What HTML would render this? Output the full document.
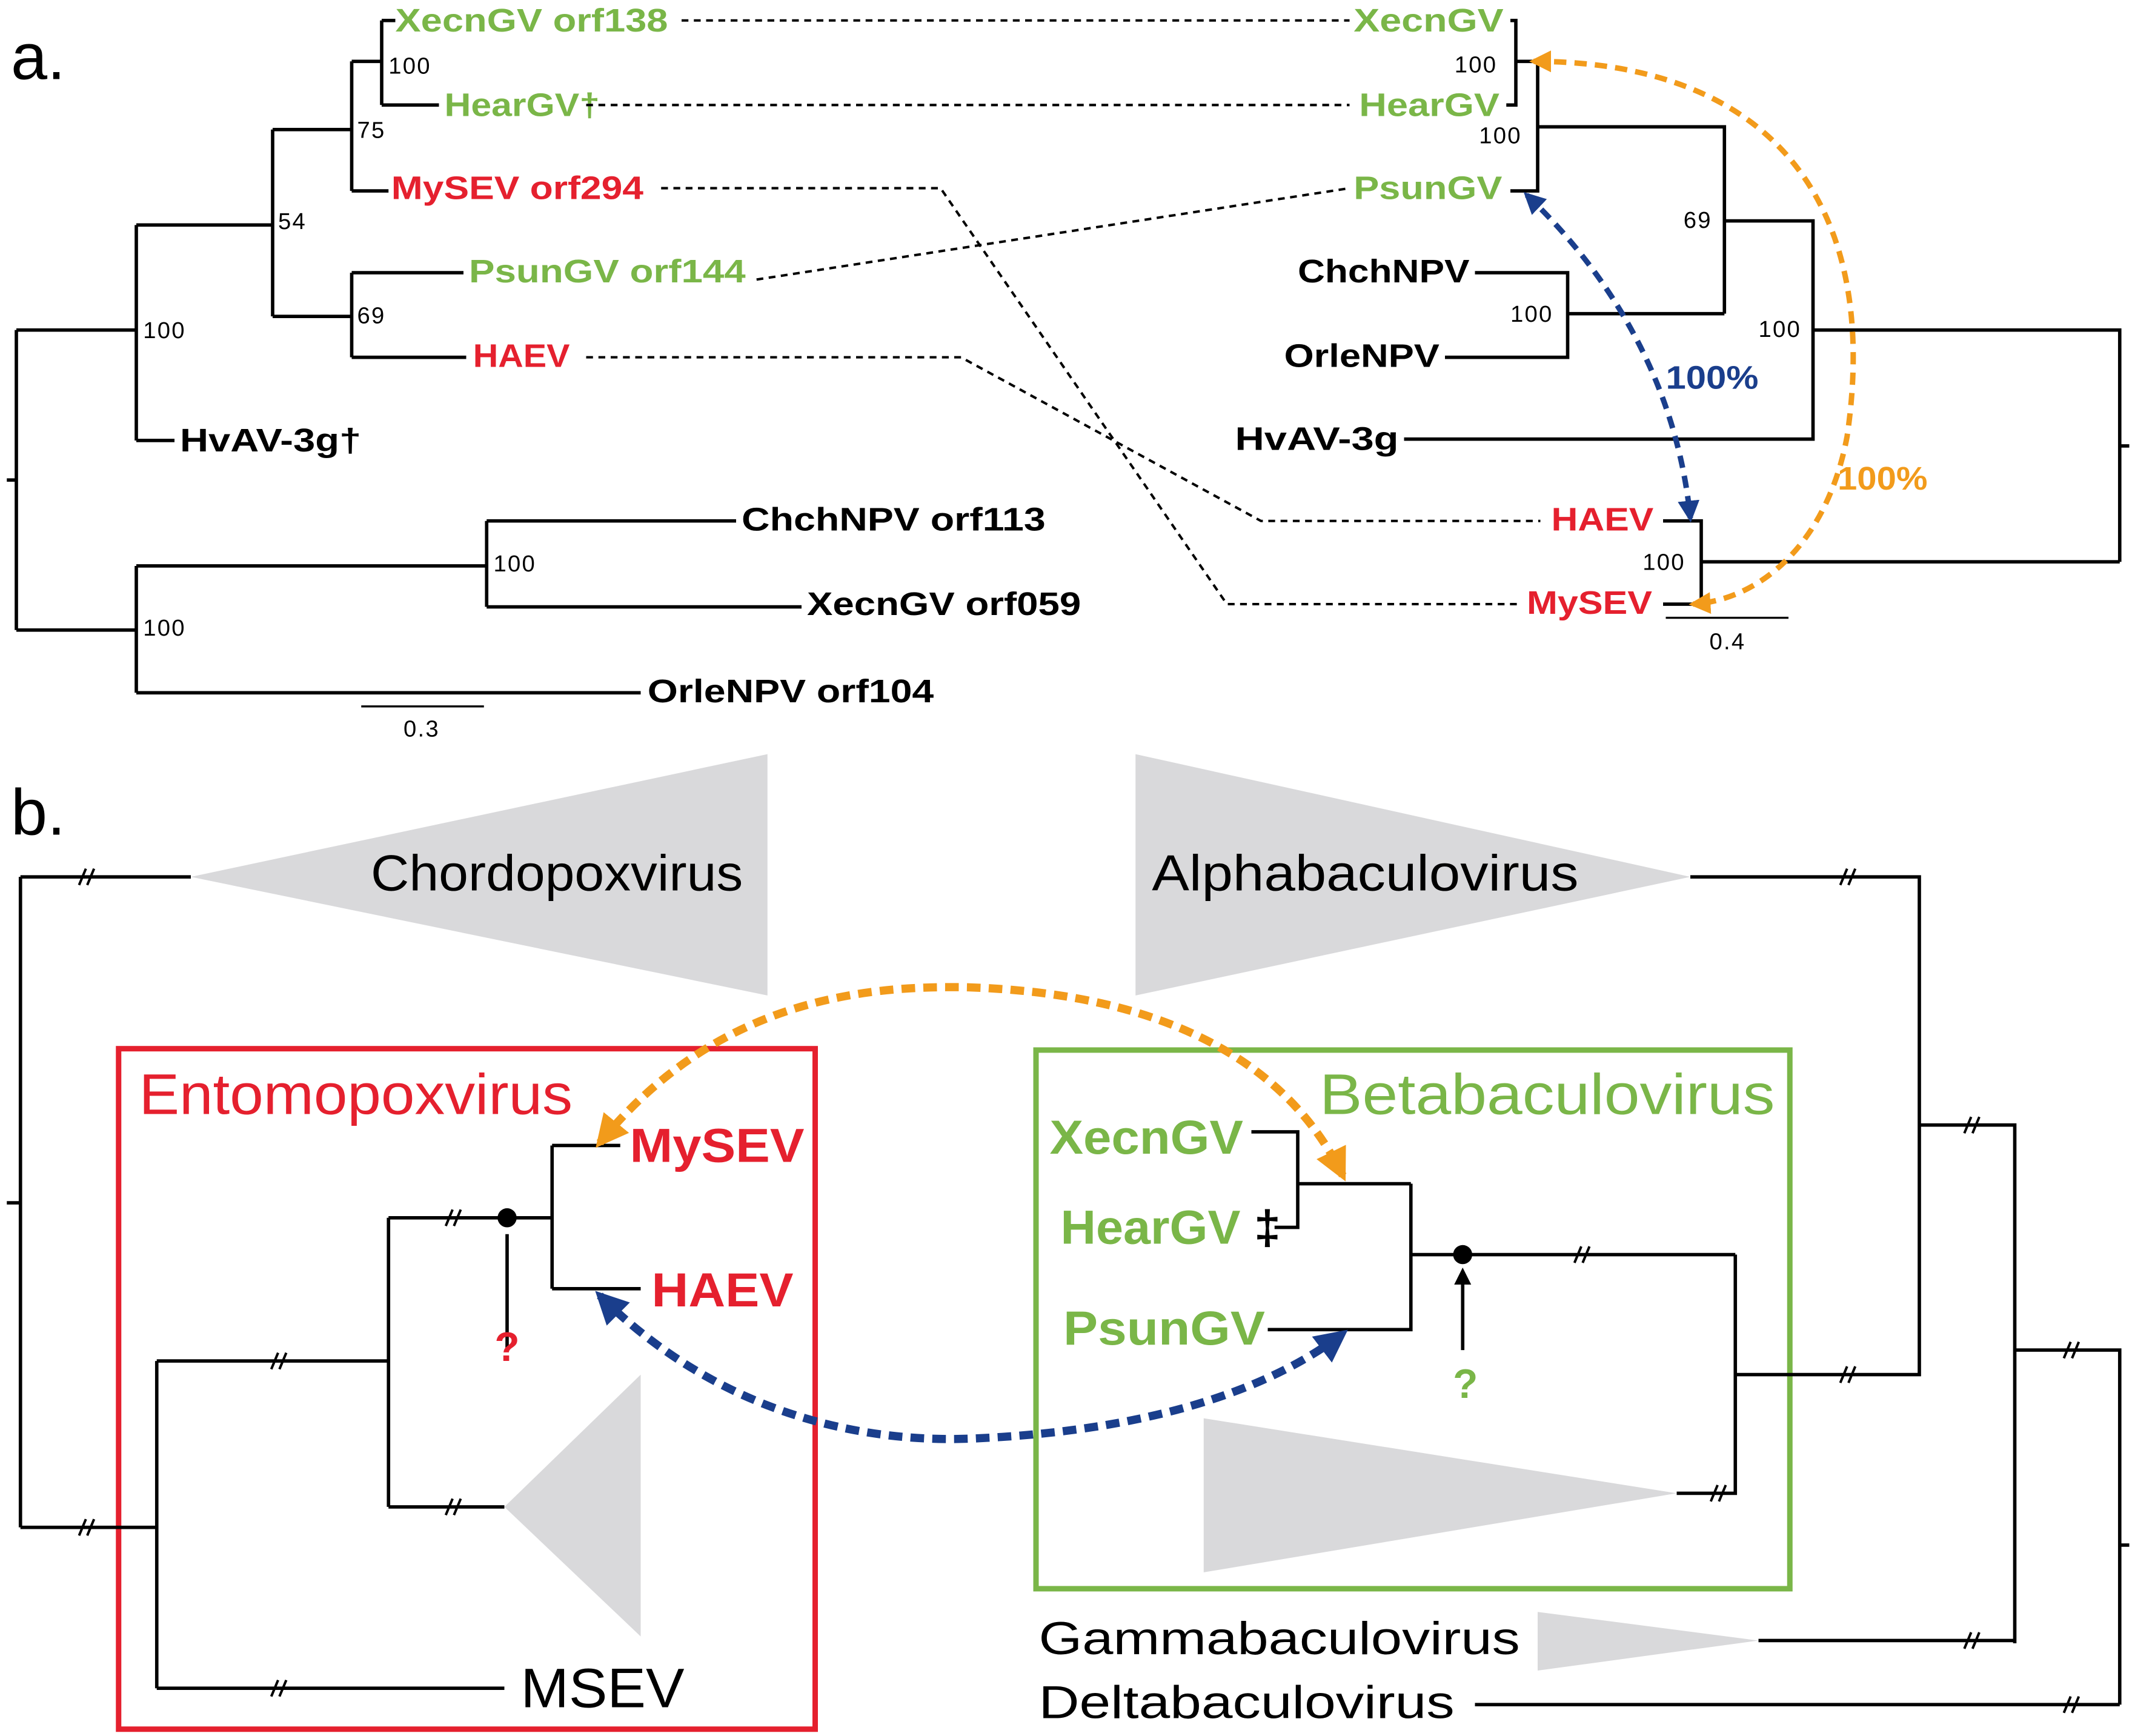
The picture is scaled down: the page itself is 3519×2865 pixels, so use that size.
<!DOCTYPE html>
<html><head><meta charset="utf-8"><style>html,body{margin:0;padding:0;background:#fff}svg{display:block}</style></head>
<body>
<svg xmlns="http://www.w3.org/2000/svg" width="3519" height="2865" viewBox="0 0 1564 1273" preserveAspectRatio="none" font-family="Liberation Sans, Arial, sans-serif">
<defs>
<marker id="ao" viewBox="0 0 10 10" refX="8" refY="5" markerWidth="4" markerHeight="4" orient="auto-start-reverse" markerUnits="strokeWidth"><path d="M0 0L10 5L0 10z" fill="#f29b1b"/></marker>
<marker id="ab" viewBox="0 0 10 10" refX="8" refY="5" markerWidth="4" markerHeight="4" orient="auto-start-reverse" markerUnits="strokeWidth"><path d="M0 0L10 5L0 10z" fill="#1a3e8c"/></marker>
<marker id="ak" viewBox="0 0 10 10" refX="8" refY="5" markerWidth="5" markerHeight="7" orient="auto" markerUnits="strokeWidth"><path d="M0 0L10 5L0 10z" fill="#000"/></marker>
</defs>
<rect width="1564" height="1273" fill="#fff"/>
<text x="8" y="58" font-size="48">a.</text>
<text x="8" y="612" font-size="48">b.</text>

<g stroke="#000" stroke-width="2.5" fill="none">
<path d="M5 352H12M12 242V462M12 242H100M100 165V323M100 323H128M100 165H200M200 95V232M200 95H258M258 45V140M258 45H280M280 15V77M280 15H290M280 77H322M258 140H285M200 232H258M258 200V262M258 200H340M258 262H342"/>
<path d="M12 462H100M100 415V508M100 415H357M357 382V445M357 382H540M357 445H588M100 508H470"/>
<path d="M265 518H355" stroke-width="1.5"/>
<path d="M1108 15H1112V77H1105M1112 45H1128M1128 45V140H1108M1128 93H1265V230M1082 200H1150V262H1060M1150 230H1265M1265 162H1330V322H1030M1330 242H1555V412M1555 327H1562M1220 382H1248V443H1220M1248 412H1555"/>
<path d="M1222 453H1312" stroke-width="1.5"/>
</g>
<g font-size="17" fill="#000" letter-spacing="1">
<text x="285" y="54">100</text><text x="262" y="101">75</text><text x="204" y="168">54</text><text x="262" y="237">69</text><text x="105" y="248">100</text>
<text x="362" y="419">100</text><text x="105" y="466">100</text><text x="296" y="540">0.3</text>
<text x="1067" y="53">100</text><text x="1085" y="105">100</text><text x="1235" y="167">69</text><text x="1108" y="236">100</text><text x="1290" y="247">100</text><text x="1205" y="418">100</text><text x="1254" y="476">0.4</text>
</g>
<g font-size="24" font-weight="bold" lengthAdjust="spacingAndGlyphs">
<text x="290" y="23" fill="#7ab648" textLength="200" lengthAdjust="spacingAndGlyphs">XecnGV orf138</text>
<text x="326" y="85" fill="#7ab648" textLength="114" lengthAdjust="spacingAndGlyphs">HearGV†</text>
<text x="287" y="146" fill="#e5202e" textLength="185" lengthAdjust="spacingAndGlyphs">MySEV orf294</text>
<text x="344" y="207" fill="#7ab648" textLength="203" lengthAdjust="spacingAndGlyphs">PsunGV orf144</text>
<text x="347" y="269" fill="#e5202e" textLength="71" lengthAdjust="spacingAndGlyphs">HAEV</text>
<text x="132" y="331" textLength="133" lengthAdjust="spacingAndGlyphs">HvAV-3g†</text>
<text x="544" y="389" textLength="223" lengthAdjust="spacingAndGlyphs">ChchNPV orf113</text>
<text x="592" y="451" textLength="201" lengthAdjust="spacingAndGlyphs">XecnGV orf059</text>
<text x="475" y="515" textLength="210" lengthAdjust="spacingAndGlyphs">OrleNPV orf104</text>
<text x="993" y="23" fill="#7ab648" textLength="110" lengthAdjust="spacingAndGlyphs">XecnGV</text>
<text x="997" y="85" fill="#7ab648" textLength="103" lengthAdjust="spacingAndGlyphs">HearGV</text>
<text x="993" y="146" fill="#7ab648" textLength="109" lengthAdjust="spacingAndGlyphs">PsunGV</text>
<text x="952" y="207" textLength="126" lengthAdjust="spacingAndGlyphs">ChchNPV</text>
<text x="942" y="269" textLength="114" lengthAdjust="spacingAndGlyphs">OrleNPV</text>
<text x="906" y="330" textLength="120" lengthAdjust="spacingAndGlyphs">HvAV-3g</text>
<text x="1138" y="389" fill="#e5202e" textLength="75" lengthAdjust="spacingAndGlyphs">HAEV</text>
<text x="1120" y="450" fill="#e5202e" textLength="92" lengthAdjust="spacingAndGlyphs">MySEV</text>
<text x="1222" y="285" fill="#1a3e8c" textLength="68" lengthAdjust="spacingAndGlyphs">100%</text>
<text x="1348" y="359" fill="#f29b1b" textLength="66" lengthAdjust="spacingAndGlyphs">100%</text>
</g>
<g stroke="#000" stroke-width="1.8" stroke-dasharray="5,4" fill="none">
<path d="M500 15H990M430 77H990M485 138H690L900 443H1115M555 205L990 138M430 262H705L925 382H1130"/>
</g>
<path d="M1125 45C1300 45 1380 150 1355 320C1340 400 1290 440 1242 443" stroke="#f29b1b" stroke-width="4" stroke-dasharray="9,6" fill="none" marker-start="url(#ao)" marker-end="url(#ao)"/>
<path d="M1120 143C1180 200 1230 280 1240 380" stroke="#1a3e8c" stroke-width="4" stroke-dasharray="9,6" fill="none" marker-start="url(#ab)" marker-end="url(#ab)"/>

<g fill="#d9d9db">
<polygon points="140,643 563,553 563,730"/>
<polygon points="833,553 833,730 1240,643"/>
<polygon points="370,1105 470,1008 470,1200"/>
<polygon points="883,1040 883,1153 1230,1095"/>
<polygon points="1128,1182 1128,1225 1290,1203"/>
</g>
<text x="272" y="653" font-size="37" textLength="273" lengthAdjust="spacingAndGlyphs">Chordopoxvirus</text>
<text x="845" y="653" font-size="37" textLength="313" lengthAdjust="spacingAndGlyphs">Alphabaculovirus</text>
<rect x="87" y="769" width="511" height="499" fill="none" stroke="#e5202e" stroke-width="4"/>
<rect x="760" y="770" width="553" height="395" fill="none" stroke="#7ab648" stroke-width="4"/>
<text x="102" y="817" font-size="42" fill="#e5202e" textLength="318" lengthAdjust="spacingAndGlyphs">Entomopoxvirus</text>
<text x="968" y="817" font-size="42" fill="#7ab648" textLength="334" lengthAdjust="spacingAndGlyphs">Betabaculovirus</text>
<g stroke="#000" stroke-width="2.5" fill="none">
<path d="M15 643H140M15 643V1120M5 882H15M15 1120H115M115 998V1238M115 998H285M115 1238H370M285 893V1105M285 893H405M285 1105H370M405 840V945M405 840H455M405 945H470"/>
<path d="M1240 643H1408V1008H1273M1273 920V1095H1230M1075 920H1273M1035 868V975H930M1035 920H1075M918 830H952V900H935M952 868H1035"/>
<path d="M1408 825H1478V1205M1478 990H1555V1250M1555 1133H1562M1290 1203H1478M1082 1250H1555"/>
<path d="M372 990V905M1073 990V932" marker-end="url(#ak)"/>
<g stroke-width="1.8">
<path d="M58 649l5-12M64 649l5-12"/>
<path d="M58 1126l5-12M64 1126l5-12"/>
<path d="M199 1004l5-12M205 1004l5-12"/>
<path d="M199 1244l5-12M205 1244l5-12"/>
<path d="M327 899l5-12M333 899l5-12"/>
<path d="M327 1111l5-12M333 1111l5-12"/>
<path d="M1155 926l5-12M1161 926l5-12"/>
<path d="M1255 1101l5-12M1261 1101l5-12"/>
<path d="M1350 1014l5-12M1356 1014l5-12"/>
<path d="M1350 649l5-12M1356 649l5-12"/>
<path d="M1441 831l5-12M1447 831l5-12"/>
<path d="M1514 996l5-12M1520 996l5-12"/>
<path d="M1441 1209l5-12M1447 1209l5-12"/>
<path d="M1514 1256l5-12M1520 1256l5-12"/>
</g>
</g>
<circle cx="372" cy="893" r="7"/>
<circle cx="1073" cy="920" r="7"/>
<text x="372" y="998" font-size="30" font-weight="bold" fill="#e5202e" text-anchor="middle">?</text>
<text x="1075" y="1025" font-size="30" font-weight="bold" fill="#7ab648" text-anchor="middle">?</text>
<g font-size="35" font-weight="bold">
<text x="462" y="852" fill="#e5202e" textLength="128" lengthAdjust="spacingAndGlyphs">MySEV</text>
<text x="478" y="958" fill="#e5202e" textLength="104" lengthAdjust="spacingAndGlyphs">HAEV</text>
<text x="770" y="846" fill="#7ab648" textLength="142" lengthAdjust="spacingAndGlyphs">XecnGV</text>
<text x="778" y="912" fill="#7ab648" textLength="132" lengthAdjust="spacingAndGlyphs">HearGV</text>
<text x="920" y="912">‡</text>
<text x="780" y="986" fill="#7ab648" textLength="148" lengthAdjust="spacingAndGlyphs">PsunGV</text>
</g>
<text x="382" y="1252" font-size="41" textLength="120" lengthAdjust="spacingAndGlyphs">MSEV</text>
<text x="762" y="1213" font-size="34" textLength="353" lengthAdjust="spacingAndGlyphs">Gammabaculovirus</text>
<text x="762" y="1260" font-size="34" textLength="305" lengthAdjust="spacingAndGlyphs">Deltabaculovirus</text>
<path d="M440 838C520 740 620 722 710 724C840 728 940 770 985 862" stroke="#f29b1b" stroke-width="6" stroke-dasharray="10,6" fill="none" marker-start="url(#ao)" marker-end="url(#ao)"/>
<path d="M440 950C520 1030 620 1058 710 1055C840 1050 930 1020 985 978" stroke="#1a3e8c" stroke-width="6" stroke-dasharray="10,6" fill="none" marker-start="url(#ab)" marker-end="url(#ab)"/>
</svg>
</body></html>
